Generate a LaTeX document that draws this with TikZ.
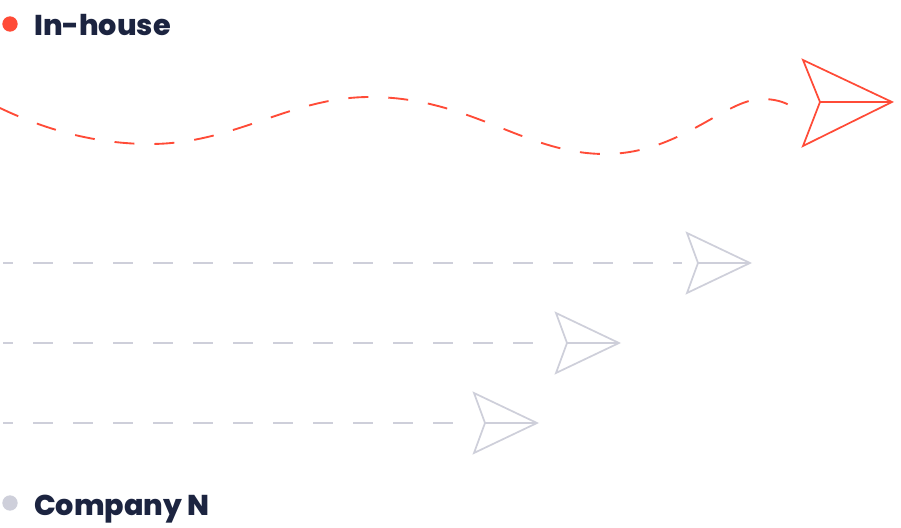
\documentclass[tikz,border=0pt]{standalone}
\usepackage{fontspec}
\setmainfont{Poppins}[BoldFont={Poppins ExtraBold}]
\definecolor{planered}{RGB}{255,75,55}
\definecolor{planegray}{RGB}{206,207,218}
\definecolor{labelnavy}{RGB}{28,36,64}
\begin{document}
\begin{tikzpicture}[x=0.75pt,y=0.75pt,yscale=-1,xscale=1,
  legenddot/.style={circle,inner sep=0pt,minimum size=11.5pt},
  legendtext/.style={anchor=base west,inner sep=0pt,text=labelnavy,font=\fontsize{21.5}{24}\selectfont\bfseries},
  trail/.style={dash pattern=on 15pt off 15pt,line width=1.4pt},
  plane/.style={line width=1.3pt,line join=miter}]
\useasboundingbox (0,0) rectangle (901,528);

%Legend
\node [legenddot,fill=planered] (dotin) at (10,24) {};
\node [legendtext] (inhouse) at (34,36) {In-house};
\node [legenddot,fill=planegray] (dotco) at (10,503) {};
\node [legendtext] (company) at (34,515) {Company N};

%Red plane
\coordinate (rtip) at (892,102);
\coordinate (rtop) at (803,60);
\coordinate (rbot) at (803,146);
\coordinate (rnotch) at (820,102);
\draw [plane,planered] (rtip) -- (rtop) -- (rnotch) -- (rbot) -- cycle;
\draw [plane,planered] (rnotch) -- (rtip);
%Wavy trail
\coordinate (rstart) at (0,108);
\draw [trail,planered,dash phase=0pt] (rstart) .. controls (50,132) and (100,144) .. (150,144) .. controls (235,144) and (290,97) .. (370,97) .. controls (470,97) and (525,154) .. (605,154) .. controls (680,154) and (725,99) .. (762,99) .. controls (775,99) and (784,102) .. (791,106);

%Gray planes
\foreach \name/\y/\tipx in {one/263/750, two/343/619, three/423/537}{
  \coordinate (\name tip) at (\tipx,\y);
  \coordinate (\name top) at (\tipx-63,\y-30);
  \coordinate (\name bot) at (\tipx-63,\y+30);
  \coordinate (\name notch) at (\tipx-52,\y);
  \coordinate (\name start) at (3,\y);
  \coordinate (\name end) at (\tipx-68,\y);
  \draw [plane,planegray] (\name tip) -- (\name top) -- (\name notch) -- (\name bot) -- cycle;
  \draw [plane,planegray] (\name notch) -- (\name tip);
  \draw [trail,planegray,dash phase=7.5pt] (\name start) -- (\name end);
}

\end{tikzpicture}
\end{document}
